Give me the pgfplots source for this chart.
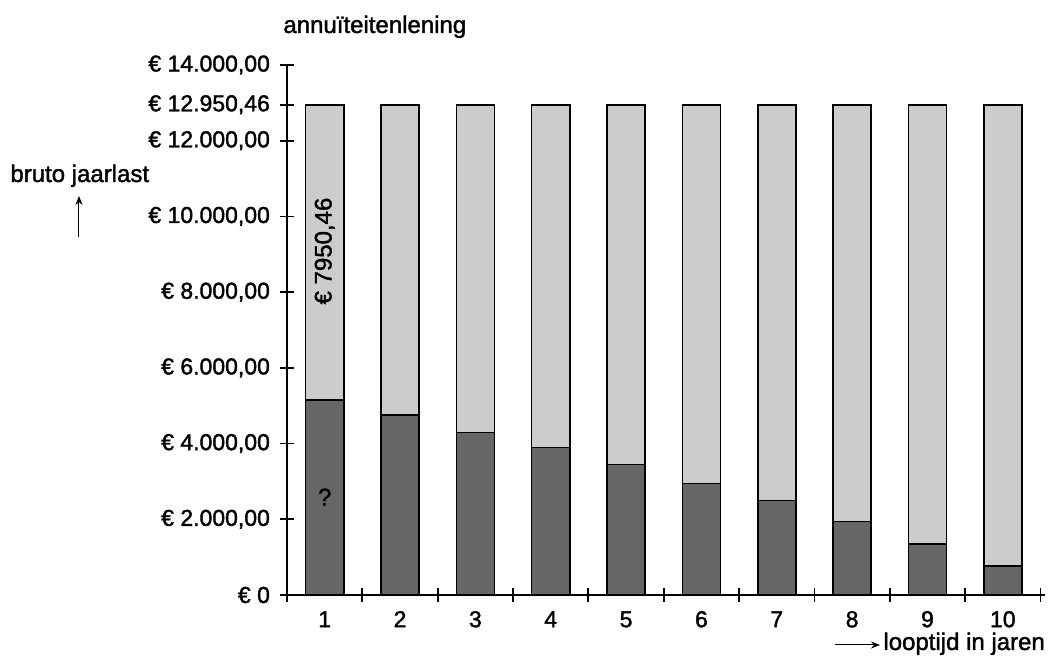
\documentclass[border=0pt]{standalone}
\usepackage{pgfplots}
\pgfplotsset{compat=1.18}
\usepackage{fontspec}
\setmainfont{Liberation Sans}[RawFeature={embolden=1.6}]
\usetikzlibrary{arrows.meta}
\definecolor{lightbar}{HTML}{CCCCCC}
\definecolor{darkbar}{HTML}{666666}
\begin{document}
\begin{tikzpicture}[font=\fontsize{11.5}{13.8}\selectfont]
\useasboundingbox (-143.5pt,-31pt) rectangle (381pt,297.5pt);
\begin{axis}[
  at={(0pt,0pt)}, anchor=south west,
  scale only axis, width=379pt, height=265pt,
  xmin=0.5, xmax=10.56, ymin=0, ymax=14000,
  axis x line=bottom, axis y line=left,
  axis line style={-, line width=1pt, black},
  ybar stacked, bar width=0.506,
  scaled y ticks=false,
  xtick={0.5,1.5,...,10.5}, xticklabels={},
  extra x ticks={1,2,...,10},
  extra x tick labels={1,2,3,4,5,6,7,8,9,10},
  extra x tick style={major tick length=0pt,
    tick label style={text height=8.2pt, text depth=0pt, inner sep=0pt, anchor=north, yshift=-7.7pt}},
  ytick={0,2000,4000,6000,8000,10000,12000,12950.46,14000},
  yticklabels={{€ 0},{€ 2.000,00},{€ 4.000,00},{€ 6.000,00},{€ 8.000,00},{€ 10.000,00},{€ 12.000,00},{€ 12.950,46},{€ 14.000,00}},
  yticklabel style={xshift=-1.5pt},
  tick align=center, major tick length=7pt,
  tick style={black, line width=0.9pt},
  clip=false,
]
\addplot[fill=darkbar, draw=black, line width=0.8pt] coordinates {(1,5143) (2,4747) (3,4297) (4,3891) (5,3451) (6,2940) (7,2491) (8,1946) (9,1347) (10,758)};
\addplot[fill=lightbar, draw=black, line width=0.8pt] coordinates {(1,7807.46) (2,8203.46) (3,8653.46) (4,9059.46) (5,9499.46) (6,10010.46) (7,10459.46) (8,11004.46) (9,11603.46) (10,12192.46)};
\coordinate (lab1) at (axis cs:1,9086);
\coordinate (lab2) at (axis cs:1,2588);
\end{axis}
\node[rotate=90, font=\fontsize{12}{14}\selectfont] at (lab1) {€ 7950,46};
\node[font=\fontsize{12}{14}\selectfont] at (lab2) {?};
\node[anchor=base west, inner sep=0pt, font=\fontsize{12}{14}\selectfont] at (-2pt,281pt) {annuïteitenlening};
\node[anchor=base west, inner sep=0pt, font=\fontsize{12}{14}\selectfont] at (-138.5pt,206.5pt) {bruto jaarlast};
\draw[line width=0.5pt, -{Stealth[length=4.5pt,width=3.5pt]}] (-104pt,179pt) -- (-104pt,199.5pt);
\node[anchor=base west, inner sep=0pt, font=\fontsize{12}{14}\selectfont] at (298pt,-27.5pt) {looptijd in jaren};
\draw[line width=0.5pt, -{Stealth[length=4.5pt,width=3.5pt]}] (274pt,-25pt) -- (296.5pt,-25pt);
\end{tikzpicture}
\end{document}
